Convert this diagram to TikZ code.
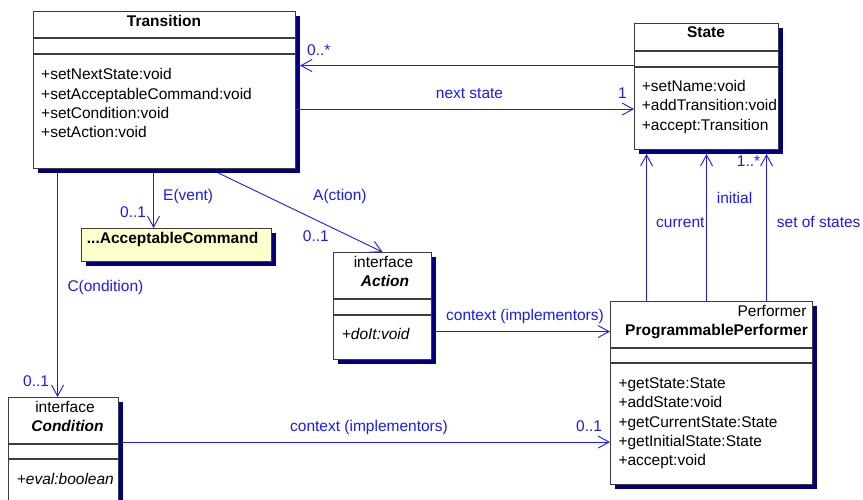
\documentclass[tikz,border=0pt]{standalone}
\usepackage{fontspec}
\setmainfont{Liberation Sans}
\usetikzlibrary{arrows.meta}
\usetikzlibrary{shadows}

\definecolor{assocblue}{RGB}{25,25,255}
\definecolor{shadownavy}{RGB}{0,0,128}
\definecolor{notefill}{RGB}{255,255,204}
\definecolor{boxline}{RGB}{60,60,60}

\begin{document}
\begin{tikzpicture}[x=1pt, y=-1pt,
		every node/.style={font=\fontsize{15.5}{19}\selectfont},
		classbox/.style={draw=boxline, line width=1.1pt, fill=white, anchor=north west, inner sep=0pt,
			drop shadow={shadow xshift=4pt, shadow yshift=-4pt, fill=shadownavy, opacity=1}},
		compartment/.style={draw=boxline, line width=1.1pt},
		member/.style={anchor=base west, inner sep=0pt},
		title/.style={anchor=base, inner sep=0pt, font=\fontsize{15.5}{19}\selectfont\bfseries},
		assoc/.style={draw=assocblue, line width=0.9pt, -{Straight Barb[length=11pt, width=12pt]}},
		role/.style={anchor=base west, inner sep=0pt, text=assocblue}]
		\useasboundingbox (0,0) rectangle (863,500);

		% Define the classes
		\node[classbox, minimum width=262pt, minimum height=157pt] (trans) at (33,11) {};
		\foreach \d in {27pt,43pt}
			\draw[compartment] ([yshift=-\d]trans.north west) -- ([yshift=-\d]trans.north east);
		\node[title] (transname) at (164,26.7) {Transition};
		\foreach \n/\m in {0/+setNextState:void, 1/+setAcceptableCommand:void, 2/+setCondition:void, 3/+setAction:void}
			\node[member] (trans\n) at (41,80+19.2*\n) {\m};

		\node[classbox, minimum width=144pt, minimum height=126pt] (state) at (634,23) {};
		\foreach \d in {28pt,44pt}
			\draw[compartment] ([yshift=-\d]state.north west) -- ([yshift=-\d]state.north east);
		\node[title] (statename) at (706,37.5) {State};
		\foreach \n/\m in {0/+setName:void, 1/+addTransition:void, 2/+accept:Transition}
			\node[member] (state\n) at (641.7,91.7+19.3*\n) {\m};

		\node[classbox, fill=notefill, minimum width=190pt, minimum height=33pt] (cmd) at (81,228) {};
		\node[title, anchor=base west] (cmdname) at (86.7,243.3) {...AcceptableCommand};

		\node[classbox, minimum width=98pt, minimum height=107pt] (action) at (333,252) {};
		\foreach \d in {47pt,63pt}
			\draw[compartment] ([yshift=-\d]action.north west) -- ([yshift=-\d]action.north east);
		\node[anchor=base, inner sep=0pt] (actionkind) at (383.5,267.3) {interface};
		\node[title, font=\fontsize{15.5}{19}\selectfont\bfseries\itshape] (actionname) at (385,286.7) {Action};
		\node[member, font=\fontsize{15.5}{19}\selectfont\itshape] (action0) at (341.7,339.3) {+doIt:void};

		\node[classbox, minimum width=202pt, minimum height=183pt] (perf) at (610,301) {};
		\foreach \d in {47pt,62pt}
			\draw[compartment] ([yshift=-\d]perf.north west) -- ([yshift=-\d]perf.north east);
		\node[anchor=base east, inner sep=0pt] (perfkind) at (806.7,316) {Performer};
		\node[title, anchor=base west] (perfname) at (625,335.7) {ProgrammablePerformer};
		\foreach \n/\m in {0/+getState:State, 1/+addState:void, 2/+getCurrentState:State, 3/+getInitialState:State, 4/+accept:void}
			\node[member] (perf\n) at (618.3,388.3+19.35*\n) {\m};

		\node[classbox, minimum width=110pt, minimum height=113pt] (cond) at (8,397) {};
		\foreach \d in {47pt,62pt}
			\draw[compartment] ([yshift=-\d]cond.north west) -- ([yshift=-\d]cond.north east);
		\node[anchor=base, inner sep=0pt] (condkind) at (65,412.3) {interface};
		\node[title, font=\fontsize{15.5}{19}\selectfont\bfseries\itshape] (condname) at (67.5,431.7) {Condition};
		\node[member, font=\fontsize{15.5}{19}\selectfont\itshape] (cond0) at (16.7,484) {+eval:boolean};

		% Draw the associations
		\draw[assoc] ([yshift=21pt]state.west) -- ([shift={(4pt,24.5pt)}]trans.east);
		\draw[assoc] ([yshift=-19pt]trans.east) -- ([yshift=-22.5pt]state.west);
		\draw[assoc] ([shift={(-11pt,-4pt)}]trans.south) -- ([xshift=-23pt]cmd.north);
		\draw[assoc] ([shift={(54pt,-4pt)}]trans.south) -- (action.north);
		\draw[assoc] ([shift={(-107pt,-4pt)}]trans.south) -- ([xshift=-6pt]cond.north);
		\draw[assoc] ([shift={(4pt,-25.5pt)}]action.east) -- ([yshift=61.5pt]perf.west);
		\draw[assoc] ([shift={(4pt,12pt)}]cond.east) -- ([yshift=-49pt]perf.west);
		\foreach \a/\b in {-65pt/-60pt, -5pt/0pt, 55pt/60pt}
			\draw[assoc] ([xshift=\a]perf.north) -- ([shift={(\b,-4pt)}]state.south);

		% Role names and multiplicities
		\node[role] (nextmult) at (307,55.5) {0..*};
		\node[role, anchor=base] (nextrole) at (469.5,99) {next state};
		\node[role] (statemult) at (618,99) {1};
		\node[role] (eventrole) at (163,201) {E(vent)};
		\node[role] (eventmult) at (120,218) {0..1};
		\node[role] (actionrole) at (313,201) {A(ction)};
		\node[role] (actionmult) at (302.7,242) {0..1};
		\node[role] (condrole) at (67.3,291.5) {C(ondition)};
		\node[role] (condmult) at (23,386.5) {0..1};
		\node[role] (actctx) at (446,320.5) {context (implementors)};
		\node[role] (condctx) at (290,431.5) {context (implementors)};
		\node[role] (perfmult) at (576,431.5) {0..1};
		\node[role] (currentrole) at (656,228) {current};
		\node[role] (initialrole) at (716.7,204) {initial};
		\node[role] (setrole) at (776.7,228) {set of states};
		\node[role] (setmult) at (736.7,166.5) {1..*};
	\end{tikzpicture}
\end{document}
